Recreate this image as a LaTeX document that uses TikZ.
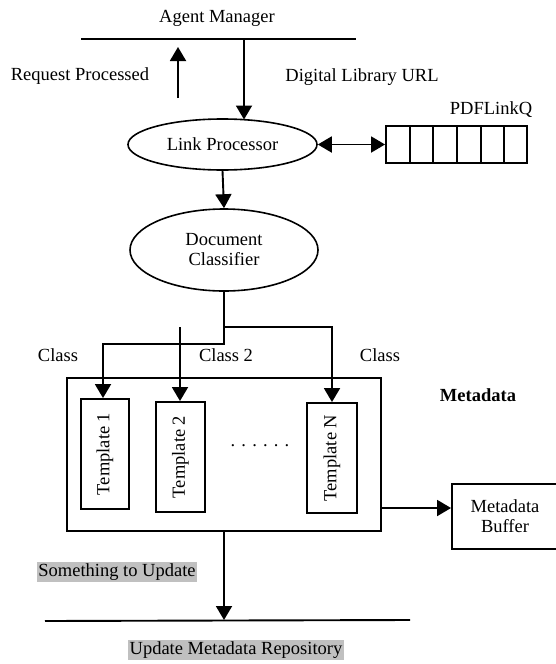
\documentclass[tikz,border=0pt]{standalone}
\usepackage{fontspec}
\setmainfont{Liberation Serif}
\usetikzlibrary{arrows.meta,shapes.geometric}
\definecolor{hl}{RGB}{192,192,192}
\begin{document}
\begin{tikzpicture}[x=1pt,y=-1pt,
  font=\fontsize{18.5}{21}\selectfont,
  ln/.style={line width=1.9pt},
  arr/.style={line width=1.9pt,-{Triangle[length=14pt,width=16pt]}},
  darr/.style={line width=1.9pt,{Triangle[length=14pt,width=16pt]}-{Triangle[length=14pt,width=16pt]}},
  oval/.style={draw,ellipse,line width=1.6pt,inner sep=0pt,align=center},
  boxn/.style={draw,rectangle,line width=1.9pt,inner sep=0pt},
  txt/.style={inner sep=0pt,align=center},
  hltxt/.style={fill=hl,inner sep=1.5pt}]
\useasboundingbox (0,0) rectangle (556,664);
% top line
\coordinate (tl1) at (81,39);
\coordinate (tl2) at (356,39);
\draw[ln] (tl1) -- (tl2);
\node[txt] (am) at (217,18) {Agent Manager};
\node[txt] (rp) at (80,76) {Request Processed};
\node[txt] (dl) at (362,77) {Digital Library URL};
\coordinate (up1) at (178,98);
\coordinate (up2) at (178,47);
\draw[arr] (up1) -- (up2);
% link processor
\node[oval,minimum width=189pt,minimum height=51pt] (lp) at (222.5,144.5) {Link Processor};
\coordinate (dn1) at (244,39);
\coordinate (dn2) at (244,119.5);
\draw[arr] (dn1) -- (dn2);
% queue
\node[boxn,minimum width=141pt,minimum height=37pt] (q) at (456.5,144.5) {};
\foreach \xx in {410,433,457,481,504}{\draw[ln] (\xx,126) -- (\xx,163);}
\node[txt] (ql) at (491,110) {PDFLinkQ};
\draw[darr] (lp.east) -- (q.west);
% document classifier
\node[oval,minimum width=188pt,minimum height=82pt] (dc) at (224,250) {Document\\[-1pt]Classifier};
\draw[arr] (lp.south) -- (dc.north);
% metadata box and templates
\node[boxn,minimum width=314pt,minimum height=153pt] (mbox) at (224,454.5) {};
\node[boxn,minimum width=48pt,minimum height=110pt] (t1) at (105,454) {\rotatebox{90}{Template 1}};
\node[boxn,minimum width=49pt,minimum height=110pt] (t2) at (180.5,457) {\rotatebox{90}{Template 2}};
\node[boxn,minimum width=50pt,minimum height=110pt] (tn) at (332,458) {\rotatebox{90}{Template N}};
\node[txt] (dots) at (260,446) {. . . . . .};
\node[txt,font=\fontsize{18.5}{21}\selectfont\bfseries] (md) at (478,395) {Metadata};
% branches
\coordinate (j1) at (224,327);
\coordinate (j2) at (224,344);
\coordinate (jl) at (103,344);
\coordinate (jr) at (332,327);
\coordinate (jm) at (180,327);
\draw[ln] (dc.south) -- (j1);
\draw[arr] (j1) -- (jr) -- (tn.north);
\draw[arr] (j1) -- (j2) -- (jl) -- (jl |- t1.north);
\draw[arr] (jm) -- (jm |- t2.north);
\node[txt] (c1) at (58,355) {Class};
\node[txt] (c2) at (226,355) {Class 2};
\node[txt] (c3) at (380,355) {Class};
% metadata buffer
\node[boxn,minimum width=106pt,minimum height=65pt,align=center] (mb) at (505,516.5) {Metadata\\[-1pt]Buffer};
\coordinate (ma) at (381,508);
\draw[arr] (ma) -- (ma -| mb.west);
% bottom
\coordinate (bl1) at (45,621);
\coordinate (bl2) at (410,620);
\draw[ln] (bl1) -- (bl2);
\coordinate (bt) at (224,620);
\draw[arr] (mbox.south) -- (bt);
\node[hltxt] (su) at (117,572) {Something to Update};
\node[hltxt] (umr) at (236,650) {Update Metadata Repository};
\end{tikzpicture}
\end{document}
